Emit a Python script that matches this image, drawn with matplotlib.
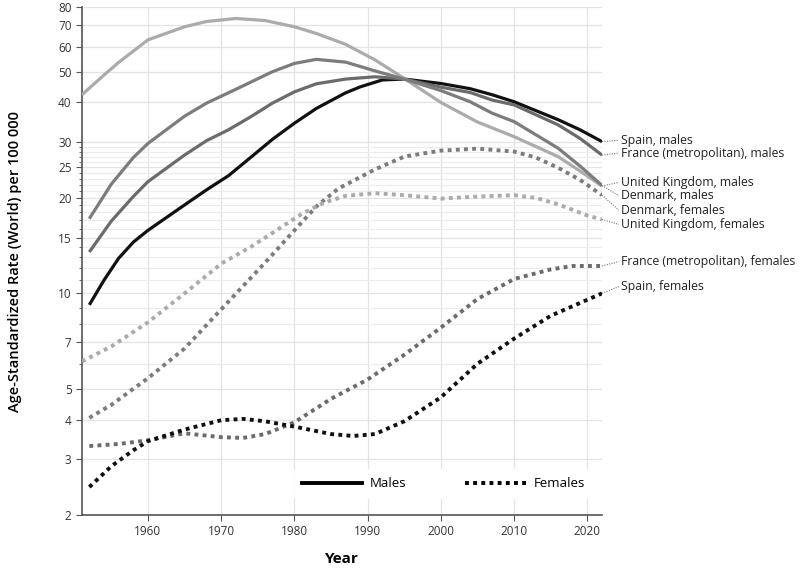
import numpy as np
import matplotlib
matplotlib.use("Agg")
import matplotlib.pyplot as plt
from matplotlib.lines import Line2D
from matplotlib.ticker import FixedLocator, NullFormatter

plt.rcParams['font.family'] = ['Open Sans', 'DejaVu Sans']

# ---- data ----
uk_m_years = [1951, 1954, 1956, 1960, 1965, 1968, 1972, 1976, 1980, 1983, 1987, 1991, 1995, 2000, 2005, 2010, 2016, 2019, 2022]
uk_m_rate = [42.3, 48.8, 53.5, 63.0, 69.3, 72.0, 73.6, 72.5, 69.3, 66.0, 61.0, 54.5, 47.6, 40.0, 34.7, 31.2, 27.0, 24.3, 21.8]

dk_m_years = [1952, 1955, 1958, 1960, 1965, 1968, 1972, 1977, 1980, 1983, 1987, 1991, 1995, 2000, 2004, 2007, 2010, 2016, 2019, 2022]
dk_m_rate = [17.2, 22.1, 26.8, 29.7, 36.2, 39.8, 44.0, 50.0, 53.1, 54.7, 53.6, 50.3, 47.4, 43.6, 40.2, 37.0, 34.8, 28.7, 25.2, 21.9]

fr_m_years = [1952, 1955, 1958, 1960, 1965, 1968, 1971, 1974, 1977, 1980, 1983, 1987, 1991, 1995, 2000, 2004, 2007, 2010, 2016, 2019, 2022]
fr_m_rate = [13.5, 16.9, 20.2, 22.5, 27.3, 30.3, 32.8, 36.0, 39.8, 43.2, 45.8, 47.4, 48.2, 47.4, 44.7, 43.0, 40.7, 39.3, 34.0, 30.8, 27.3]

es_m_years = [1952, 1954, 1956, 1958, 1960, 1965, 1968, 1971, 1974, 1977, 1980, 1983, 1987, 1989, 1992, 1995, 2000, 2004, 2007, 2010, 2016, 2019, 2022]
es_m_rate = [9.2, 11.0, 12.9, 14.5, 15.8, 19.0, 21.2, 23.5, 26.8, 30.6, 34.4, 38.3, 42.9, 44.8, 47.1, 47.4, 45.9, 44.2, 42.3, 40.2, 35.3, 32.8, 30.1]

uk_f_years = [1951, 1955, 1960, 1965, 1970, 1974, 1977, 1981, 1984, 1987, 1991, 1995, 2000, 2005, 2010, 2013, 2016, 2020, 2022]
uk_f_rate = [6.1, 6.8, 8.1, 10.0, 12.4, 14.0, 15.5, 17.8, 19.3, 20.3, 20.7, 20.4, 19.9, 20.2, 20.4, 20.0, 19.1, 17.6, 17.1]

dk_f_years = [1952, 1955, 1960, 1965, 1970, 1976, 1980, 1983, 1986, 1991, 1995, 2000, 2005, 2010, 2013, 2016, 2019, 2022]
dk_f_rate = [4.05, 4.45, 5.4, 6.7, 8.9, 12.5, 15.8, 18.8, 21.4, 24.6, 27.0, 28.2, 28.6, 28.0, 26.8, 24.9, 22.8, 20.4]

fr_f_years = [1952, 1956, 1960, 1965, 1970, 1973, 1976, 1980, 1985, 1990, 1995, 2000, 2005, 2010, 2015, 2018, 2022]
fr_f_rate = [3.3, 3.35, 3.44, 3.62, 3.52, 3.5, 3.6, 3.92, 4.65, 5.35, 6.4, 7.8, 9.6, 11.1, 11.9, 12.2, 12.2]

es_f_years = [1952, 1955, 1958, 1960, 1965, 1970, 1973, 1976, 1980, 1985, 1988, 1991, 1995, 2000, 2005, 2010, 2015, 2022]
es_f_rate = [2.45, 2.85, 3.2, 3.42, 3.72, 3.98, 4.02, 3.95, 3.8, 3.6, 3.55, 3.6, 3.95, 4.7, 6.0, 7.2, 8.5, 10.0]

labels = ["Spain, males", "France (metropolitan), males", "United Kingdom, males",
          "Denmark, males", "Denmark, females", "United Kingdom, females",
          "France (metropolitan), females", "Spain, females"]

x_ticks = [1960, 1970, 1980, 1990, 2000, 2010, 2020]
y_major = [2, 3, 4, 5, 7, 10, 15, 20, 25, 30, 40, 50, 60, 70, 80]
y_minor = [6, 8, 9, 11, 12, 13, 14, 16, 17, 18, 19, 21, 22, 23, 24, 26, 27, 28, 29]

# ---- styles ----
c_es, c_fr, c_dk, c_uk = "#111111", "#6b6b6b", "#7c7c7c", "#ababab"
dot = (0, (1, 1.1))

series = [  # years, values, colour, style, label y (data units, for right-hand text)
    (es_m_years, es_m_rate, c_es, "-", 30.4),
    (fr_m_years, fr_m_rate, c_fr, "-", 27.7),
    (uk_m_years, uk_m_rate, c_uk, "-", 22.4),
    (dk_m_years, dk_m_rate, c_dk, "-", 20.3),
    (dk_f_years, dk_f_rate, c_dk, dot, 18.3),
    (uk_f_years, uk_f_rate, c_uk, dot, 16.5),
    (fr_f_years, fr_f_rate, c_fr, dot, 12.6),
    (es_f_years, es_f_rate, c_es, dot, 10.5),
]

fig = plt.figure(figsize=(8, 5.73), dpi=100)
ax = fig.add_axes([0.1025, 0.1012, 0.65, 0.8866])

ax.set_yscale("log")
ax.set_xlim(1951, 2022)
ax.set_ylim(2, 80)

ax.yaxis.set_major_locator(FixedLocator(y_major))
ax.yaxis.set_minor_locator(FixedLocator(y_minor))
ax.set_yticklabels([str(v) for v in y_major])
ax.yaxis.set_minor_formatter(NullFormatter())
ax.set_xticks(x_ticks)

ax.grid(True, which="major", color="#e3e3e3", lw=0.9)
ax.grid(True, which="minor", axis="y", color="#ececec", lw=0.8)
ax.set_axisbelow(True)

for s in ["top", "right"]:
    ax.spines[s].set_visible(False)
for s in ["left", "bottom"]:
    ax.spines[s].set_color("#555555")
    ax.spines[s].set_linewidth(1.2)

ax.tick_params(axis="both", which="major", length=4, color="#555555", labelsize=8.5, labelcolor="#333333")
ax.tick_params(axis="y", which="minor", length=2.5, color="#555555")
ax.tick_params(axis="x", pad=3)

for yrs, vals, col, ls, _ in series:
    if ls == "-":
        ax.plot(yrs, vals, color=col, lw=2.3, ls=ls, solid_capstyle="butt",
                solid_joinstyle="round", zorder=3)
    else:
        ax.plot(yrs, vals, color=col, lw=2.8, ls=ls, zorder=3)

# right-hand labels with dotted leaders
x_text = 2024.6
for (yrs, vals, col, ls, ly), lab in zip(series, labels):
    ax.plot([yrs[-1], x_text - 0.3], [vals[-1], ly], color="#777777", lw=0.8,
            ls=(0, (1, 1.2)), clip_on=False, zorder=2)
    ax.text(x_text, ly, lab, fontsize=8.8, color="#222222", va="center", ha="left",
            clip_on=False)

ax.set_xlabel("Year", fontsize=11, fontweight="bold", labelpad=10)
ax.set_ylabel("Age-Standardized Rate (World) per 100 000", fontsize=10.5,
              fontweight="semibold", labelpad=26)

handles = [Line2D([], [], color="black", lw=2.8, ls="-"),
           Line2D([], [], color="black", lw=2.8, ls=dot)]
leg = ax.legend(handles, ["Males", "Females"], ncol=2, loc="lower right",
                bbox_to_anchor=(0.995, 0.02), frameon=True, fontsize=9.5,
                handlelength=4.6, columnspacing=4.4, handletextpad=0.6,
                borderpad=0.6)
leg.get_frame().set_facecolor("white")
leg.get_frame().set_edgecolor("white")
leg.get_frame().set_alpha(1)

fig.savefig("out.png", dpi=100)
